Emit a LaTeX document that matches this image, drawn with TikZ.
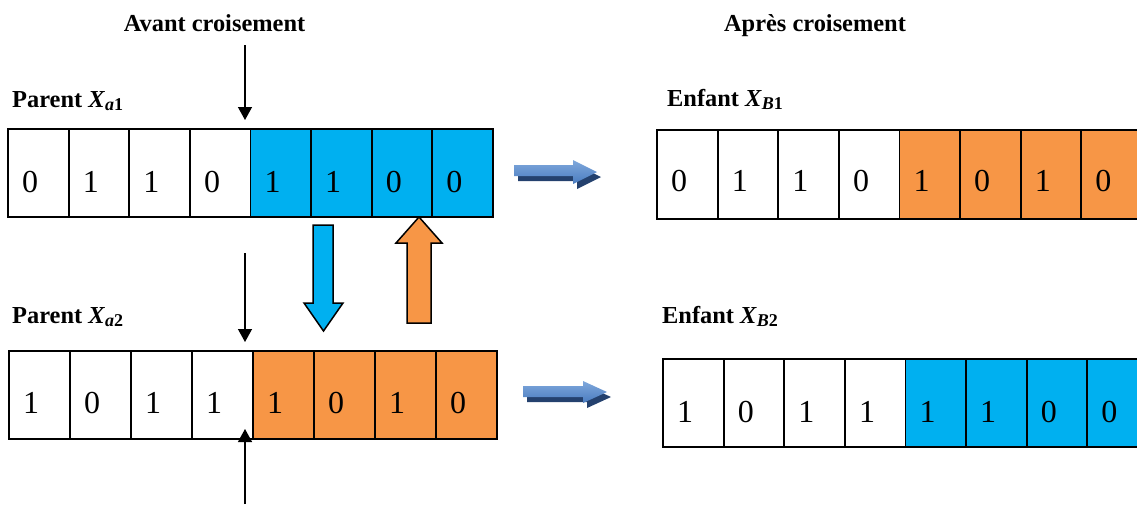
\documentclass[tikz,border=0pt]{standalone}
\usepackage{fontspec}
\setmainfont{Liberation Serif}
\usetikzlibrary{arrows.meta}
\definecolor{cyanb}{HTML}{00B0F0}
\definecolor{orng}{HTML}{F79646}
\definecolor{arrb}{HTML}{4A7CC0}
\definecolor{arrbl}{HTML}{7FA8DC}
\definecolor{arrsh}{HTML}{24416E}
\newcommand{\subx}[1]{\raisebox{-3.5pt}{\fontsize{18}{18}\selectfont #1}}
\begin{document}
\begin{tikzpicture}[x=1pt,y=-1pt,
  cell/.style={draw=black,line width=1.8pt,minimum width=60.6pt,minimum height=88pt,inner sep=0pt,outer sep=0pt,anchor=north west},
  digit/.style={font=\fontsize{32}{32}\selectfont,anchor=base west,inner sep=0pt},
  lbl/.style={font=\bfseries\fontsize{24.4}{24.4}\selectfont,anchor=base west,inner sep=0pt},
  ttl/.style={font=\bfseries\fontsize{24.4}{24.4}\selectfont,anchor=base,inner sep=0pt},
  cut/.style={line width=1.3pt,-{Triangle[width=14pt,length=13pt]}},
  block/.style={draw=black,line width=1.5pt},
  rarrow/.style={top color=arrbl,bottom color=arrb,draw=none},
  rshadow/.style={fill=arrsh,draw=none}]
\useasboundingbox (0,0) rectangle (1137,504);
\clip (0,0) rectangle (1137,504);
% titles
\node[ttl] (t1) at (214.5,31) {Avant croisement};
\node[ttl] (t2) at (815,31) {Après croisement};
% labels
\node[lbl] (la1) at (12,107) {Parent \textit{X}\subx{\textit{a}1}};
\node[lbl] (la2) at (12,323) {Parent \textit{X}\subx{\textit{a}2}};
\node[lbl] (lb1) at (667,106) {Enfant \textit{X}\subx{\textit{B}1}};
\node[lbl] (lb2) at (662,323) {Enfant \textit{X}\subx{\textit{B}2}};
% row Parent a1
\foreach \d/\c [count=\i from 0] in {0/white,1/white,1/white,0/white,1/cyanb,1/cyanb,0/cyanb,0/cyanb}{
  \node[cell,fill=\c] (a\i) at ({8+\i*60.6},129) {};
  \node[digit] (da\i) at ([xshift=14pt,yshift=25pt]a\i.south west) {\d};
}
% row Parent a2
\foreach \d/\c [count=\i from 0] in {1/white,0/white,1/white,1/white,1/orng,0/orng,1/orng,0/orng}{
  \node[cell,fill=\c] (b\i) at ({9+\i*61},351) {};
  \node[digit] (db\i) at ([xshift=14pt,yshift=26pt]b\i.south west) {\d};
}
% row Enfant B1
\foreach \d/\c [count=\i from 0] in {0/white,1/white,1/white,0/white,1/orng,0/orng,1/orng,0/orng}{
  \node[cell,fill=\c,minimum height=89pt] (c\i) at ({657+\i*60.6},130) {};
  \node[digit] (dc\i) at ([xshift=14pt,yshift=28pt]c\i.south west) {\d};
}
% row Enfant B2
\foreach \d/\c [count=\i from 0] in {1/white,0/white,1/white,1/white,1/cyanb,1/cyanb,0/cyanb,0/cyanb}{
  \node[cell,fill=\c] (e\i) at ({663+\i*60.6},359) {};
  \node[digit] (de\i) at ([xshift=14pt,yshift=25pt]e\i.south west) {\d};
}
% cut arrows
\coordinate (k1s) at (245,45);
\coordinate (k1e) at (245,120);
\coordinate (k2s) at (245,253);
\coordinate (k2e) at (245,342);
\coordinate (k3s) at (245,504);
\coordinate (k3e) at (245,429);
\draw[cut] (k1s) -- (k1e);
\draw[cut] (k2s) -- (k2e);
\draw[cut] (k3s) -- (k3e);
% exchange block arrows
\filldraw[block,fill=cyanb] (313,225) -- (333,225) -- (333,303) -- (343,303) -- (323.5,331) -- (304,303) -- (313,303) -- cycle;
\filldraw[block,fill=orng] (407,323) -- (431,323) -- (431,243) -- (442,243) -- (419,217) -- (396,243) -- (407,243) -- cycle;
% result arrows with shadow
\begin{scope}[shift={(4,5)}]
\fill[rshadow] (514,165) -- (573,165) -- (573,160) -- (597,172) -- (573,184) -- (573,176) -- (514,176) -- cycle;
\fill[rshadow] (523,386) -- (583,386) -- (583,381) -- (607,392) -- (583,403) -- (583,397) -- (523,397) -- cycle;
\end{scope}
\shade[rarrow] (514,165) -- (573,165) -- (573,160) -- (597,172) -- (573,184) -- (573,176) -- (514,176) -- cycle;
\shade[rarrow] (523,386) -- (583,386) -- (583,381) -- (607,392) -- (583,403) -- (583,397) -- (523,397) -- cycle;
\end{tikzpicture}
\end{document}
